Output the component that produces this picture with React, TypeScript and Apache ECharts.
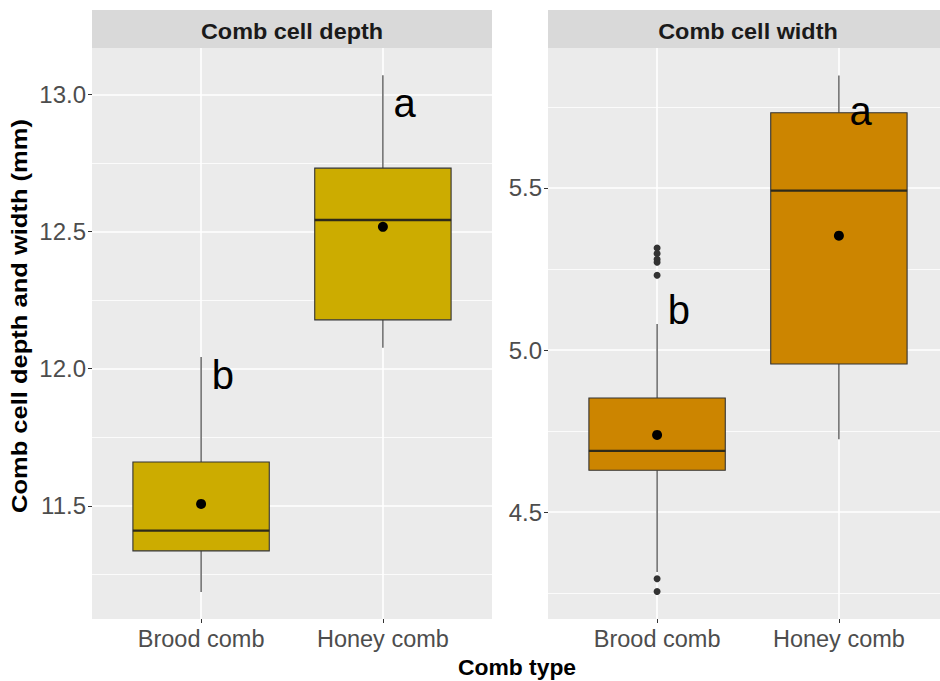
import React, { useEffect, useRef } from 'react';
import * as echarts from 'echarts';

const categories = ['Brood comb', 'Honey comb'];
const facetTitles = ['Comb cell depth', 'Comb cell width'];
const xTitle = 'Comb type';
const yTitle = 'Comb cell depth and width (mm)';

// Comb cell depth (mm)
const depthLower = [11.186, 12.076];
const depthQ1 = [11.336, 12.178];
const depthMedian = [11.41, 12.542];
const depthQ3 = [11.66, 12.731];
const depthUpper = [12.043, 13.07];
const depthMean = [11.507, 12.517];
const depthLetters = ['b', 'a'];
const depthLetterY = [11.977, 12.968];
const depthOutlierCat: number[] = [];
const depthOutlierVal: number[] = [];

// Comb cell width (mm)
const widthLower = [4.315, 4.725];
const widthQ1 = [4.629, 4.957];
const widthMedian = [4.689, 5.492];
const widthQ3 = [4.852, 5.732];
const widthUpper = [5.08, 5.847];
const widthMean = [4.738, 5.353];
const widthLetters = ['b', 'a'];
const widthLetterY = [5.123, 5.738];
const widthOutlierCat = [1, 1, 1, 1, 1, 1, 1];
const widthOutlierVal = [5.315, 5.298, 5.28, 5.271, 5.231, 4.294, 4.255];

// Axes
const depthTicks = [11.5, 12.0, 12.5, 13.0];
const depthMinorTicks = [11.25, 11.75, 12.25, 12.75];
const depthRange = [11.0875, 13.169];
const widthTicks = [4.5, 5.0, 5.5];
const widthMinorTicks = [4.25, 4.75, 5.25, 5.75];
const widthRange = [4.17, 5.932];
const xRange = [0.4, 2.6];
const xTicks = [1, 2];

const fills = ['#CCAC00', '#CC8500'];
const FONT = '"Liberation Sans", Arial, sans-serif';

const PANEL_TOP = 48;
const PANEL_H = 571;
const PANEL_W = 400;
const PANEL_LEFT = [92, 548];

function buildFacet(
  gi: number,
  lower: number[], q1: number[], med: number[], q3: number[], upper: number[],
  mean: number[], letters: string[], letterY: number[],
  outCat: number[], outVal: number[]
) {
  const yMajor = gi * 2;
  const boxData = categories.map((_, i) => [i + 1, lower[i], q1[i], med[i], q3[i], upper[i]]);
  const meanData = categories.map((_, i) => [i + 1, mean[i]]);
  const outData = outCat.map((c, i) => [c, outVal[i]]);
  const letterData = categories.map((_, i) => [i + 1, letterY[i]]);
  const fill = fills[gi];
  return [
    {
      type: 'custom',
      xAxisIndex: gi,
      yAxisIndex: yMajor,
      z: 2,
      data: boxData,
      encode: { x: 0, y: [1, 2, 3, 4, 5] },
      renderItem: (params: any, api: any) => {
        const x = api.value(0);
        const lo = api.coord([x, api.value(1)]);
        const pq1 = api.coord([x, api.value(2)]);
        const pm = api.coord([x, api.value(3)]);
        const pq3 = api.coord([x, api.value(4)]);
        const hi = api.coord([x, api.value(5)]);
        const halfW = api.size([0.375, 0])[0];
        const cx = lo[0];
        const lineStyle = { stroke: '#333333', lineWidth: 1.1 };
        return {
          type: 'group',
          children: [
            { type: 'line', shape: { x1: cx, y1: hi[1], x2: cx, y2: pq3[1] }, style: lineStyle },
            { type: 'line', shape: { x1: cx, y1: pq1[1], x2: cx, y2: lo[1] }, style: lineStyle },
            {
              type: 'rect',
              shape: { x: cx - halfW, y: pq3[1], width: 2 * halfW, height: pq1[1] - pq3[1] },
              style: { fill, stroke: '#333333', lineWidth: 1.1 },
            },
            {
              type: 'line',
              shape: { x1: cx - halfW, y1: pm[1], x2: cx + halfW, y2: pm[1] },
              style: { stroke: '#2e2a1a', lineWidth: 2.3 },
            },
          ],
        };
      },
    },
    {
      type: 'scatter',
      xAxisIndex: gi,
      yAxisIndex: yMajor,
      z: 3,
      symbol: 'circle',
      symbolSize: 7,
      itemStyle: { color: '#333333', opacity: 1 },
      data: outData,
    },
    {
      type: 'scatter',
      xAxisIndex: gi,
      yAxisIndex: yMajor,
      z: 4,
      symbol: 'circle',
      symbolSize: 10,
      itemStyle: { color: '#000000', opacity: 1 },
      data: meanData,
    },
    {
      type: 'custom',
      xAxisIndex: gi,
      yAxisIndex: yMajor,
      z: 5,
      data: letterData,
      encode: { x: 0, y: 1 },
      renderItem: (params: any, api: any) => {
        const p = api.coord([api.value(0) + 0.12, api.value(1)]);
        return {
          type: 'text',
          x: p[0],
          y: p[1],
          style: {
            text: letters[params.dataIndex],
            fill: '#000000',
            font: `40px ${FONT}`,
            align: 'center',
            verticalAlign: 'middle',
            textAlign: 'center',
            textVerticalAlign: 'middle',
          },
        };
      },
    },
  ];
}

function yAxes(gi: number, range: number[], ticks: number[], minor: number[]) {
  return [
    {
      type: 'value',
      gridIndex: gi,
      min: range[0],
      max: range[1],
      axisLine: { show: false },
      axisTick: { show: true, length: 4, customValues: ticks, lineStyle: { color: '#333333', width: 1 } },
      axisLabel: {
        show: true,
        customValues: ticks,
        margin: 6,
        color: '#4D4D4D',
        fontSize: 24,
        fontFamily: FONT,
        formatter: (v: number) => v.toFixed(1),
      },
      splitLine: { show: true, lineStyle: { color: '#FFFFFF', width: 1.6 } },
    },
    {
      type: 'value',
      gridIndex: gi,
      min: range[0],
      max: range[1],
      axisLine: { show: false },
      axisTick: { show: false, customValues: minor },
      axisLabel: { show: false, customValues: minor },
      splitLine: { show: true, lineStyle: { color: '#FFFFFF', width: 0.8 } },
    },
  ];
}

function xAxis(gi: number) {
  return {
    type: 'value',
    gridIndex: gi,
    min: xRange[0],
    max: xRange[1],
    axisLine: { show: false },
    axisTick: { show: true, length: 4, customValues: xTicks, lineStyle: { color: '#333333', width: 1 } },
    axisLabel: {
      show: true,
      customValues: xTicks,
      margin: 8,
      color: '#4D4D4D',
      fontSize: 23.5,
      fontFamily: FONT,
      formatter: (v: number) => categories[Math.round(v) - 1] ?? '',
    },
    splitLine: { show: true, lineStyle: { color: '#FFFFFF', width: 1.6 } },
  };
}

const centered = { align: 'center', verticalAlign: 'middle', textAlign: 'center', textVerticalAlign: 'middle' };

export default function App() {
  const ref = useRef<HTMLDivElement>(null);
  useEffect(() => {
    if (!ref.current) return;
    const chart = echarts.init(ref.current, undefined, { renderer: 'svg' });
    const option: any = {
      animation: false,
      backgroundColor: '#FFFFFF',
      textStyle: { fontFamily: FONT },
      grid: PANEL_LEFT.map((l) => ({
        left: l,
        top: PANEL_TOP,
        width: PANEL_W,
        height: PANEL_H,
        show: true,
        backgroundColor: '#EBEBEB',
        borderWidth: 0,
        containLabel: false,
      })),
      xAxis: [xAxis(0), xAxis(1)],
      yAxis: [
        ...yAxes(0, depthRange, depthTicks, depthMinorTicks),
        ...yAxes(1, widthRange, widthTicks, widthMinorTicks),
      ],
      series: [
        ...buildFacet(0, depthLower, depthQ1, depthMedian, depthQ3, depthUpper, depthMean, depthLetters, depthLetterY, depthOutlierCat, depthOutlierVal),
        ...buildFacet(1, widthLower, widthQ1, widthMedian, widthQ3, widthUpper, widthMean, widthLetters, widthLetterY, widthOutlierCat, widthOutlierVal),
      ],
      graphic: [
        ...PANEL_LEFT.map((l, i) => ({
          type: 'group',
          children: [
            { type: 'rect', shape: { x: l, y: 10, width: PANEL_W, height: PANEL_TOP - 10 }, style: { fill: '#D9D9D9' } },
            {
              type: 'text',
              x: l + PANEL_W / 2,
              y: 31,
              scaleX: 1.065,
              style: { text: facetTitles[i], fill: '#1A1A1A', font: `bold 22px ${FONT}`, ...centered },
            },
          ],
        })),
        {
          type: 'text',
          x: 517,
          y: 668,
          scaleX: 1.04,
          style: { text: xTitle, fill: '#000000', font: `bold 22px ${FONT}`, ...centered },
        },
        {
          type: 'text',
          x: 19,
          y: 316,
          rotation: Math.PI / 2,
          scaleX: 1.16,
          style: { text: yTitle, fill: '#000000', font: `bold 22px ${FONT}`, ...centered },
        },
      ],
    };
    chart.setOption(option);
    return () => chart.dispose();
  }, []);
  return (
    <div style={{ position: 'absolute', left: 0, top: 0, width: 940, height: 681, overflow: 'hidden' }}>
      <div ref={ref} style={{ width: 948, height: 681 }} />
    </div>
  );
}
